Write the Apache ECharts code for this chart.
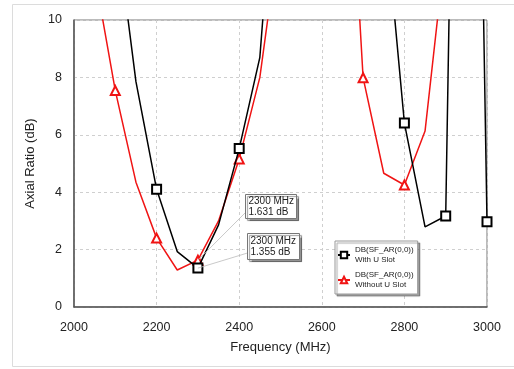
<!DOCTYPE html>
<html>
<head>
<meta charset="utf-8">
<script src="https://cdn.jsdelivr.net/npm/echarts@6/dist/echarts.min.js"></script>
<style>
  html, body { margin: 0; padding: 0; background: #fff; }
  #chart { width: 514px; height: 369px; }
</style>
</head>
<body>
<div id="chart"></div>
<script>
// frequency samples (MHz), markers drawn every 100 MHz
const freqs = [2000, 2050, 2100, 2150, 2200, 2250, 2300, 2350, 2400, 2450, 2500,
  2550, 2600, 2650, 2700, 2750, 2800, 2850, 2900, 2950, 3000]
// axial ratio (dB) with U slot
const withSlot = [30, 25, 13.5, 7.85, 4.1, 1.93, 1.355, 2.86, 5.52, 8.7, 18,
  30, 30, 30, 25, 14.2, 6.41, 2.79, 3.17, 46, 2.97]
// axial ratio (dB) without U slot
const withoutSlot = [30, 11.6, 7.54, 4.35, 2.4, 1.29, 1.631, 3.0, 5.16, 8.0, 13.3,
  30, 30, 20.5, 7.99, 4.66, 4.25, 6.13, 12.6, 30, 30]
const xTicks = [2000, 2200, 2400, 2600, 2800, 3000]
const yTicks = [0, 2, 4, 6, 8, 10]
const seriesNames = ['With U Slot', 'Without U Slot']
const legendPrefix = 'DB(SF_AR(0,0))'
const noteFreq = 2300

const font = "'Liberation Sans', Arial, sans-serif"

function toData (vals) {
  return freqs.map((f, i) => {
    let item = { value: [f, vals[i]] }
    if (f % 100 !== 0) item.symbol = 'none'
    return item
  })
}

const chart = echarts.init(document.getElementById('chart'))

const options = {
  animation: false,
  textStyle: { fontFamily: font },
  graphic: [{
    type: 'rect',
    z: -10,
    silent: true,
    shape: { x: 12.5, y: 4.5, width: 520, height: 362 },
    style: { fill: '#fff', stroke: '#dcdcdc', lineWidth: 1 }
  }],
  grid: {
    left: 74,
    top: 20,
    right: 27,
    bottom: 62,
    show: true,
    borderColor: '#777',
    borderWidth: 1
  },
  legend: {
    orient: 'vertical',
    left: 335,
    top: 241,
    padding: [4, 4, 4, 2],
    itemGap: 5,
    itemWidth: 12,
    itemHeight: 8,
    backgroundColor: '#fff',
    borderColor: '#999',
    borderWidth: 1,
    shadowColor: 'rgba(0,0,0,0.35)',
    shadowBlur: 1,
    shadowOffsetX: 2,
    shadowOffsetY: 2,
    textStyle: { fontSize: 8, lineHeight: 10, color: '#222', fontFamily: font },
    formatter: name => legendPrefix + '\n' + name,
    data: seriesNames
  },
  xAxis: {
    type: 'value',
    min: 2000,
    max: 3000,
    interval: 200,
    name: 'Frequency (MHz)',
    nameLocation: 'middle',
    nameGap: 34,
    nameTextStyle: { fontSize: 13, color: '#222', fontFamily: font },
    axisLine: { show: true, lineStyle: { color: '#555', width: 1.5 } },
    axisTick: { show: false },
    axisLabel: { fontSize: 12.5, color: '#222', margin: 14, fontFamily: font,
      formatter: v => xTicks.includes(v) ? String(v) : '' },
    splitLine: { show: true, lineStyle: { color: '#cfcfcf', type: [3, 3] } }
  },
  yAxis: {
    type: 'value',
    min: 0,
    max: 10,
    interval: 2,
    name: 'Axial Ratio (dB)',
    nameLocation: 'middle',
    nameGap: 37,
    nameTextStyle: { fontSize: 13, color: '#222', fontFamily: font },
    axisLine: { show: true, lineStyle: { color: '#555', width: 1.5 } },
    axisTick: { show: false },
    axisLabel: { fontSize: 12.5, color: '#222', margin: 12, fontFamily: font,
      formatter: v => yTicks.includes(v) ? String(v) : '' },
    splitLine: { show: true, lineStyle: { color: '#cfcfcf', type: [3, 3] } }
  },
  series: [
    {
      name: seriesNames[0],
      type: 'line',
      clip: true,
      data: toData(withSlot),
      symbol: 'emptyRect',
      symbolSize: 9,
      itemStyle: { color: '#000', borderWidth: 1.3 },
      lineStyle: { color: '#000', width: 1.5 },
      z: 3
    },
    {
      name: seriesNames[1],
      type: 'line',
      clip: true,
      data: toData(withoutSlot),
      symbol: 'emptyTriangle',
      symbolSize: 9,
      itemStyle: { color: '#f01414', borderWidth: 1.3 },
      lineStyle: { color: '#f01414', width: 1.5 },
      z: 2
    }
  ]
}

chart.setOption(options)

// annotation boxes for the 2300 MHz readings
const idx = freqs.indexOf(noteFreq)
const notes = [
  { val: withoutSlot[idx], dx: 47, dy: -66, w: 51, h: 24 },
  { val: withSlot[idx], dx: 49, dy: -35, w: 52, h: 26 }
]
const extra = []
notes.forEach(n => {
  const p = chart.convertToPixel({ gridIndex: 0 }, [noteFreq, n.val])
  const bx = Math.round(p[0] + n.dx) + 0.5
  const by = Math.round(p[1] + n.dy) + 0.5
  extra.push({
    type: 'line',
    silent: true,
    z: 10,
    shape: { x1: p[0], y1: p[1], x2: bx, y2: by + n.h * 0.75 },
    style: { stroke: '#bbb', lineWidth: 0.8 }
  })
  extra.push({
    type: 'rect',
    silent: true,
    z: 11,
    shape: { x: bx, y: by, width: n.w, height: n.h },
    style: {
      fill: '#fff', stroke: '#777', lineWidth: 1,
      shadowColor: 'rgba(0,0,0,0.4)', shadowBlur: 1, shadowOffsetX: 2, shadowOffsetY: 2
    }
  })
  extra.push({
    type: 'text',
    silent: true,
    z: 12,
    x: bx + 3,
    y: by + n.h / 2,
    style: {
      text: noteFreq + ' MHz\n' + n.val.toFixed(3) + ' dB',
      font: '10px ' + font,
      lineHeight: 11.5,
      fill: '#222',
      verticalAlign: 'middle'
    }
  })
})
chart.setOption({ graphic: options.graphic.concat(extra) })
</script>
</body>
</html>
